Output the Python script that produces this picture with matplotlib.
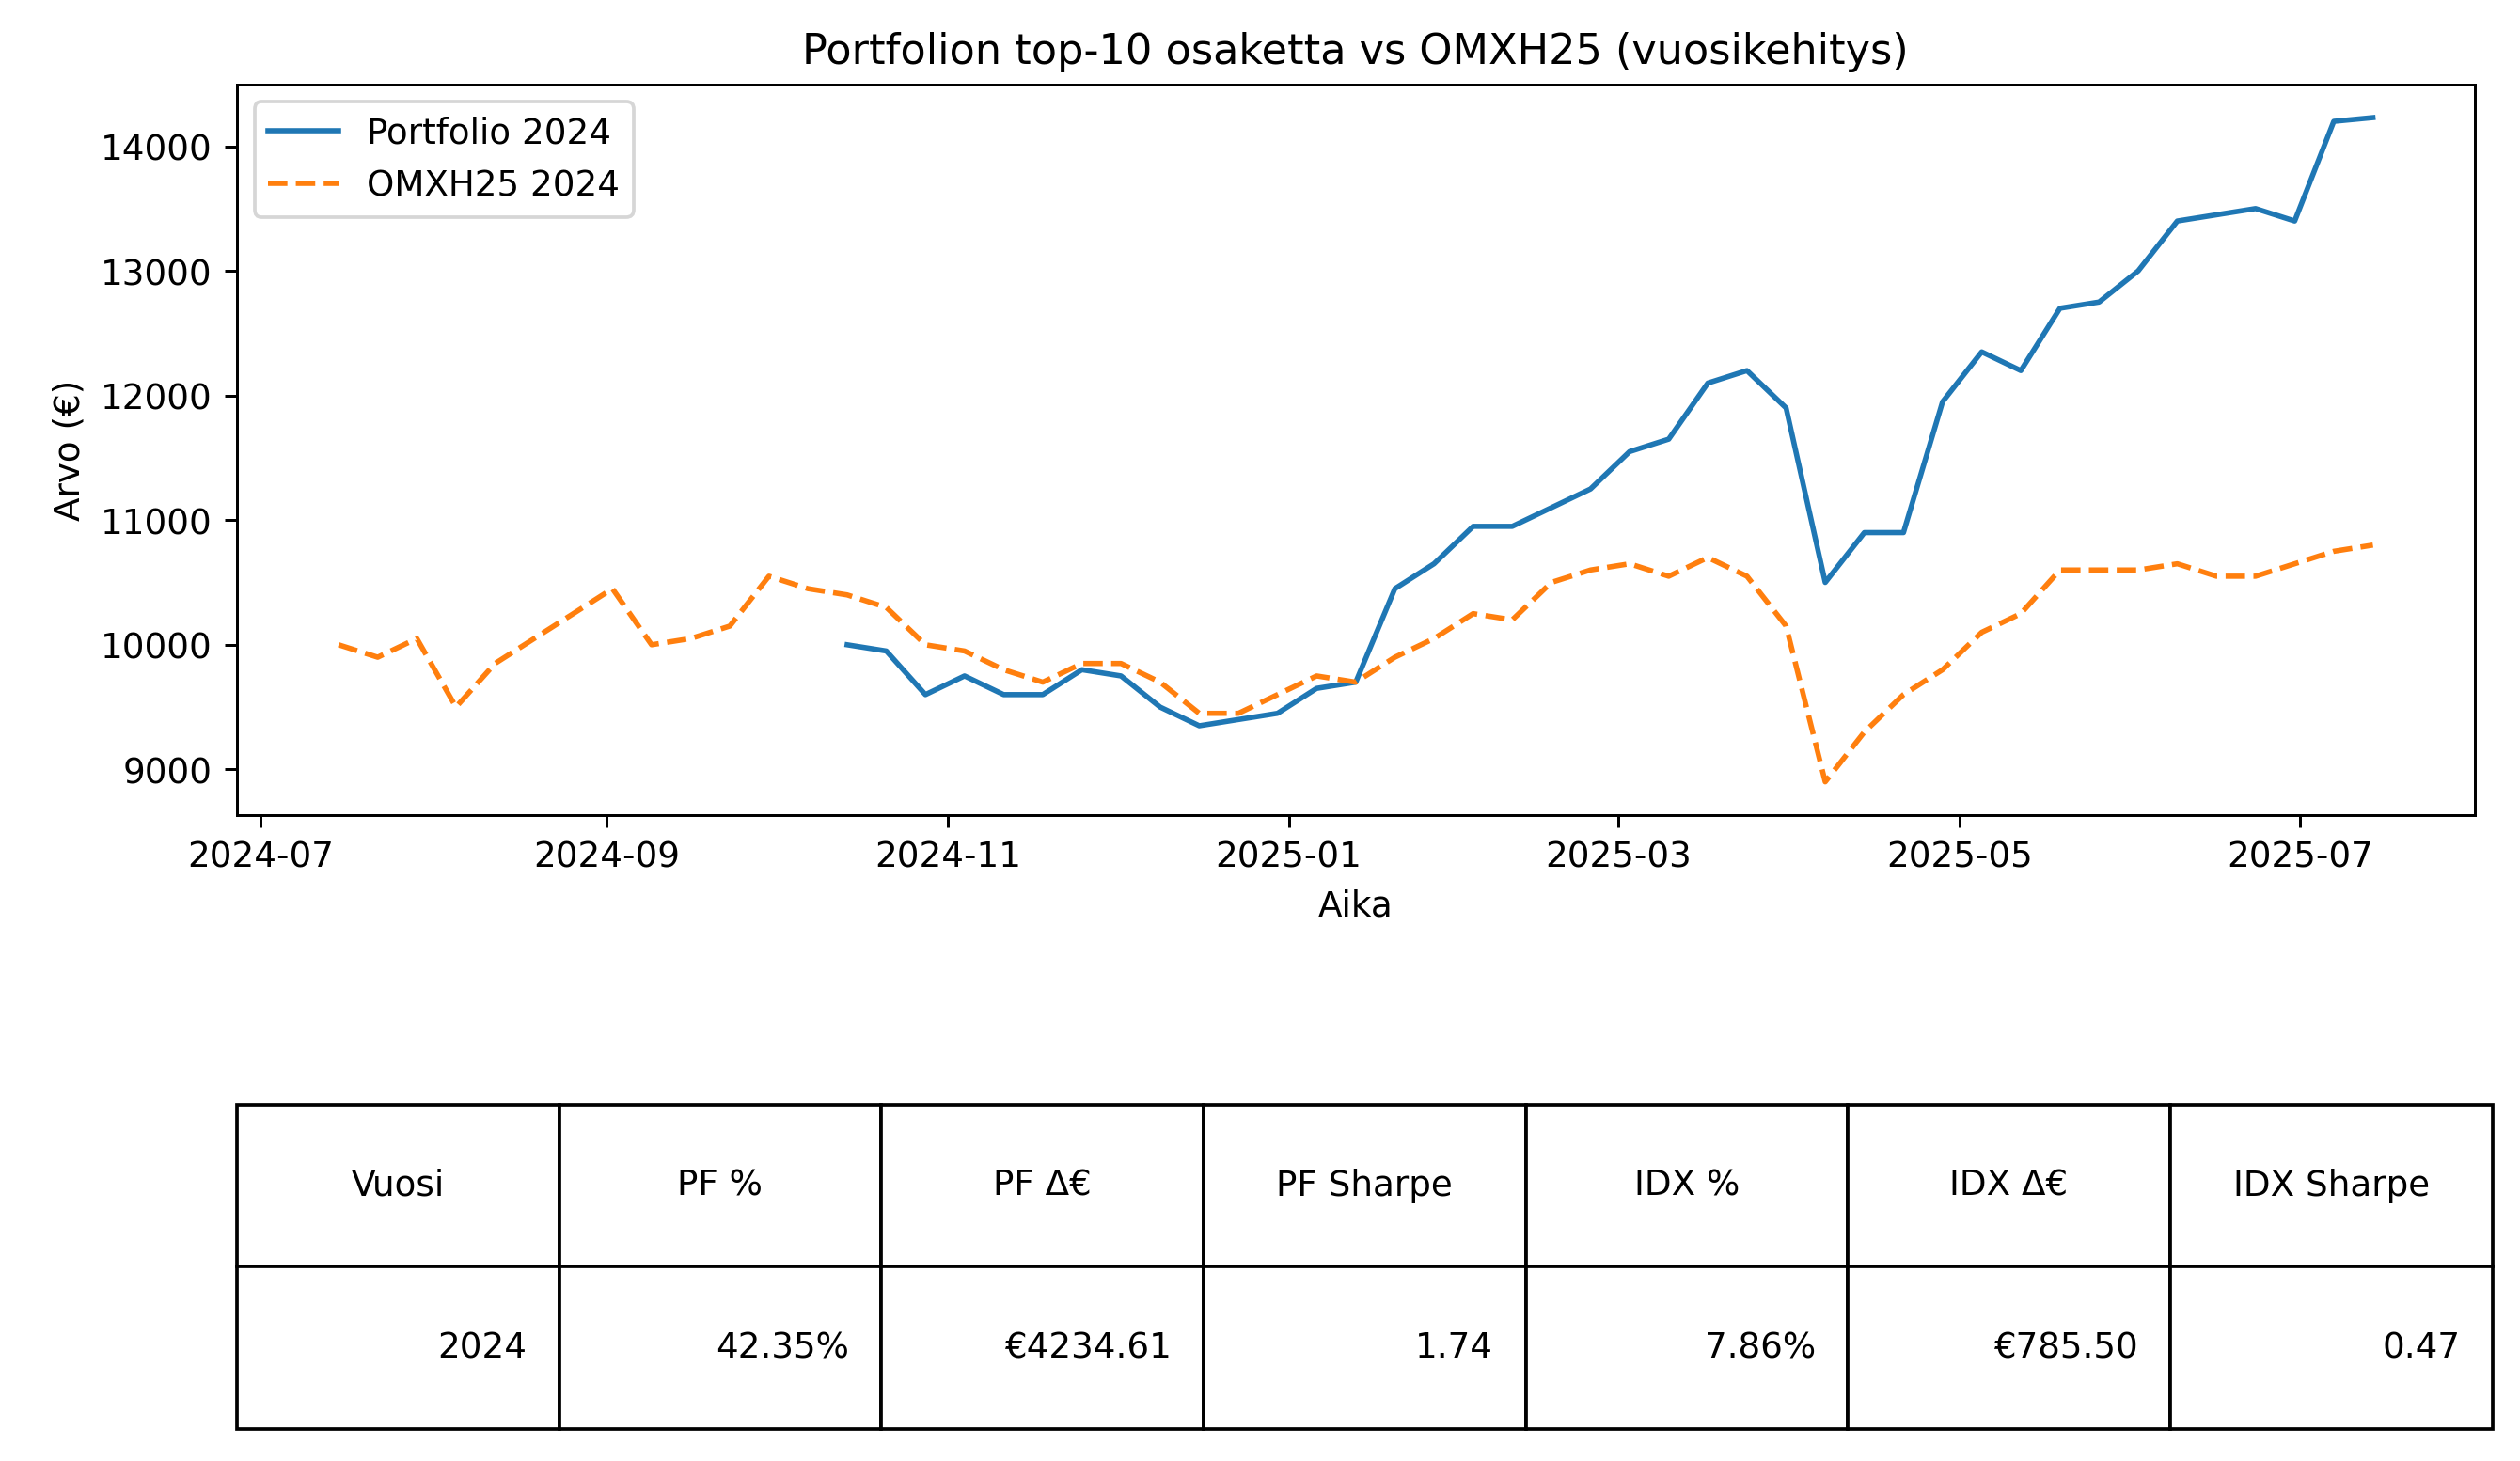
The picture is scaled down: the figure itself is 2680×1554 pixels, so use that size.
import matplotlib
matplotlib.use("Agg")
import matplotlib.pyplot as plt
import numpy as np
import pandas as pd

idx_dates = pd.date_range("2024-07-15", "2025-07-14", freq="W-MON")
idx_values = [10000, 9900, 10050, 9500, 9850, 10050, 10250, 10450, 10000, 10050,
              10150, 10550, 10450, 10400, 10300, 10000, 9950, 9800, 9700, 9850,
              9850, 9700, 9450, 9450, 9600, 9750, 9700, 9900, 10050, 10250,
              10200, 10500, 10600, 10650, 10550, 10700, 10550, 10150, 8900, 9300,
              9600, 9800, 10100, 10250, 10600, 10600, 10600, 10650, 10550, 10550,
              10650, 10750, 10800]

pf_dates = pd.date_range("2024-10-14", "2025-07-14", freq="W-MON")
pf_values = [10000, 9950, 9600, 9750, 9600, 9600, 9800, 9750, 9500, 9350,
             9400, 9450, 9650, 9700, 10450, 10650, 10950, 10950, 11100, 11250,
             11550, 11650, 12100, 12200, 11900, 10500, 10900, 10900, 11950, 12350,
             12200, 12700, 12750, 13000, 13400, 13450, 13500, 13400, 14200, 14230]

col_labels = ["Vuosi", "PF %", "PF Δ€", "PF Sharpe", "IDX %", "IDX Δ€", "IDX Sharpe"]
row_values = ["2024", "42.35%", "€4234.61", "1.74", "7.86%", "€785.50", "0.47"]

fig = plt.figure(figsize=(10, 5.8), dpi=268)
ax = fig.add_axes([0.094, 0.442, 0.888, 0.5])
ax.plot(pf_dates[:len(pf_values)], pf_values, "-", color="#1f77b4", label="Portfolio 2024")
ax.plot(idx_dates[:len(idx_values)], idx_values, "--", color="#ff7f0e", label="OMXH25 2024")
ax.set_title("Portfolion top-10 osaketta vs OMXH25 (vuosikehitys)")
ax.set_xlabel("Aika")
ax.set_ylabel("Arvo (€)")
ax.legend(loc="upper left")

tax = fig.add_axes([0.094, 0.022, 0.895, 0.222])
tax.axis("off")
tab = tax.table(cellText=[row_values], colLabels=col_labels, bbox=[0, 0, 1, 1])
for (r, c), cell in tab.get_celld().items():
    cell.get_text().set_ha("center" if r == 0 else "right")
    cell.PAD = 0.1
tab.auto_set_font_size(False)
tab.set_fontsize(10)

fig.savefig("out.png")
